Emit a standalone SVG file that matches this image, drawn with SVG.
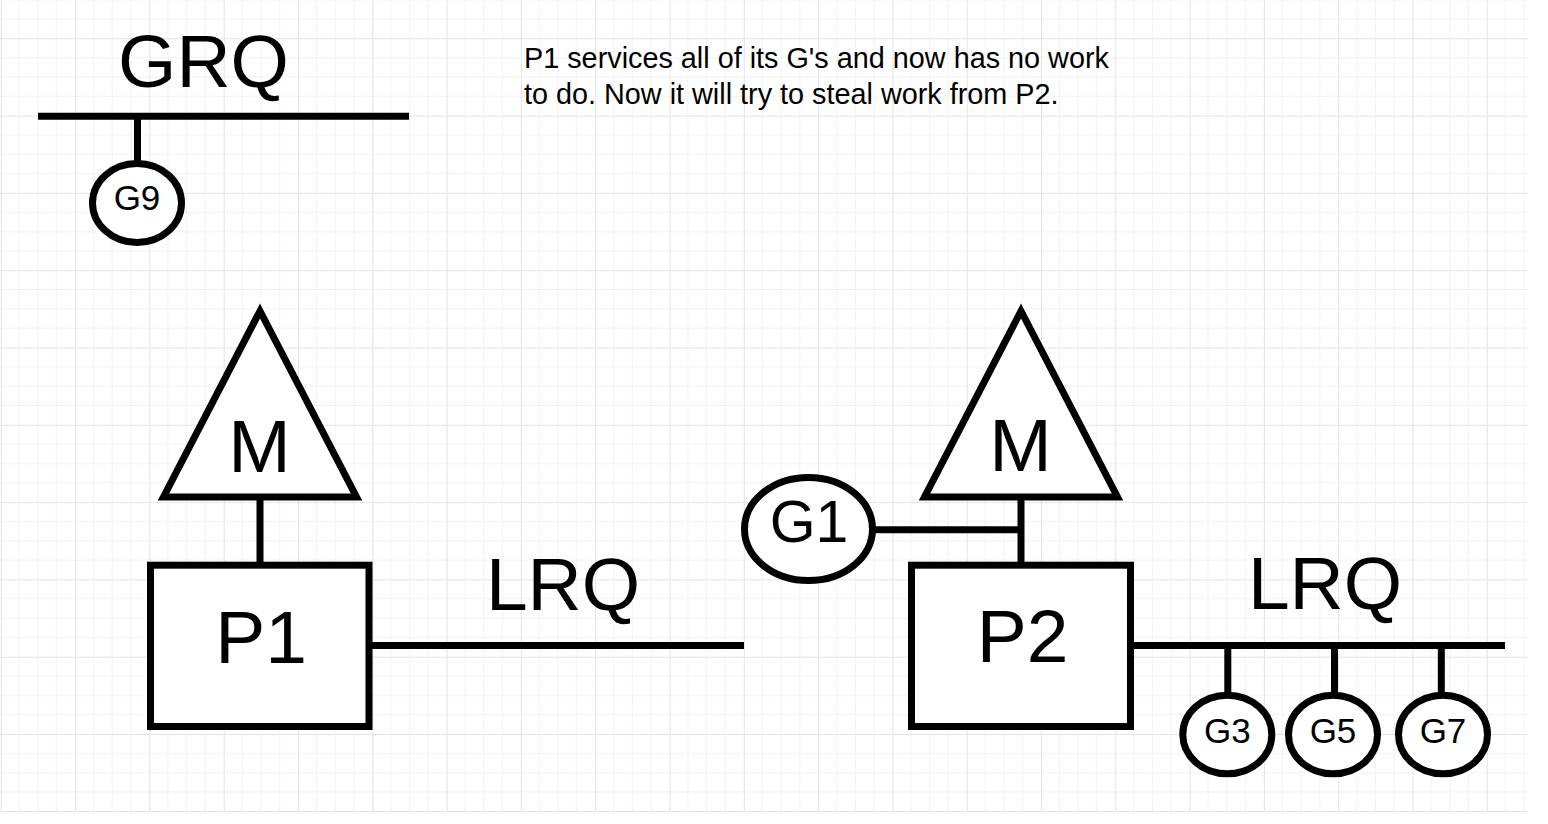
<svg xmlns="http://www.w3.org/2000/svg" width="1548" height="824" viewBox="0 0 1548 824">
<style>
.s{fill:#fff;stroke:#000;stroke-width:7;stroke-miterlimit:10}
.ln{stroke:#000;stroke-width:7;fill:none}
.big{font-family:"Liberation Sans",Arial,sans-serif;font-size:75px;fill:#000;text-anchor:middle}
.sm{font-family:"Liberation Sans",Arial,sans-serif;font-size:35px;fill:#000;text-anchor:middle}
.note{font-family:"Liberation Sans",Arial,sans-serif;font-size:28.8px;fill:#000}
.mn{stroke:#f2f2f2;stroke-width:1}
.mj{stroke:#e3e3e3;stroke-width:1}
</style>
<defs>
<pattern id="grid" patternUnits="userSpaceOnUse" x="0.8" y="-39" width="74.3" height="77.3">
<path class="mn" d="M18.575 0V77.3M37.15 0V77.3M55.725 0V77.3M0 19.325H74.3M0 38.65H74.3M0 57.975H74.3"/>
<path class="mj" d="M0.5 0V77.3M0 0.5H74.3"/>
</pattern>
</defs>
<rect x="0" y="0" width="1548" height="824" fill="#fff"/>
<rect x="0" y="0" width="1528" height="812" fill="url(#grid)"/>
<line x1="0" y1="811.5" x2="1528" y2="811.5" stroke="#e3e3e3" stroke-width="1"/>

<g id="connectors">
<line class="ln" x1="38" y1="116.3" x2="409" y2="116.3"/>
<line class="ln" x1="137.5" y1="116" x2="137.5" y2="163"/>
<line class="ln" x1="260" y1="497" x2="260" y2="565"/>
<line class="ln" x1="369" y1="645.5" x2="744" y2="645.5"/>
<line class="ln" x1="1021" y1="497" x2="1021" y2="565"/>
<line class="ln" x1="872" y1="529.7" x2="1021" y2="529.7"/>
<line class="ln" x1="1131" y1="645.5" x2="1505" y2="645.5"/>
<line class="ln" x1="1227.8" y1="645" x2="1227.8" y2="695"/>
<line class="ln" x1="1334.5" y1="645" x2="1334.5" y2="695"/>
<line class="ln" x1="1441.3" y1="645" x2="1441.3" y2="695"/>
</g>

<g id="grq-label"><text class="big" x="203.5" y="87">GRQ</text></g>

<g id="note">
<text class="note" x="524" y="68">P1 services all of its G's and now has no work</text>
<text class="note" x="524" y="104">to do. Now it will try to steal work from P2.</text>
</g>

<g id="g9">
<ellipse class="s" cx="137" cy="203" rx="44.5" ry="39.5"/>
<text class="sm" x="137" y="210">G9</text>
</g>

<g id="m1">
<polygon class="s" points="260,311 163.5,497 356.5,497"/>
<text class="big" x="259.5" y="472">M</text>
</g>

<g id="p1">
<rect class="s" x="150.5" y="565.2" width="218.5" height="161.3"/>
<text class="big" x="261" y="663">P1</text>
</g>

<g id="lrq1-label"><text class="big" x="563" y="610">LRQ</text></g>

<g id="m2">
<polygon class="s" points="1021,311 924.5,497 1117.5,497"/>
<text class="big" x="1020.5" y="471">M</text>
</g>

<g id="g1">
<ellipse class="s" cx="808.5" cy="529" rx="64" ry="51.5"/>
<text class="big" style="font-size:59px" x="809" y="542">G1</text>
</g>

<g id="p2">
<rect class="s" x="911.5" y="565.2" width="219" height="161.3"/>
<text class="big" x="1022.5" y="662">P2</text>
</g>

<g id="lrq2-label"><text class="big" x="1325" y="609">LRQ</text></g>

<g id="g3">
<ellipse class="s" cx="1227.3" cy="734.5" rx="44.5" ry="39.3"/>
<text class="sm" x="1227.3" y="743">G3</text>
</g>
<g id="g5">
<ellipse class="s" cx="1333" cy="734.5" rx="44.5" ry="39.3"/>
<text class="sm" x="1333" y="743">G5</text>
</g>
<g id="g7">
<ellipse class="s" cx="1443" cy="734.5" rx="44.5" ry="39.3"/>
<text class="sm" x="1443" y="743">G7</text>
</g>
</svg>
